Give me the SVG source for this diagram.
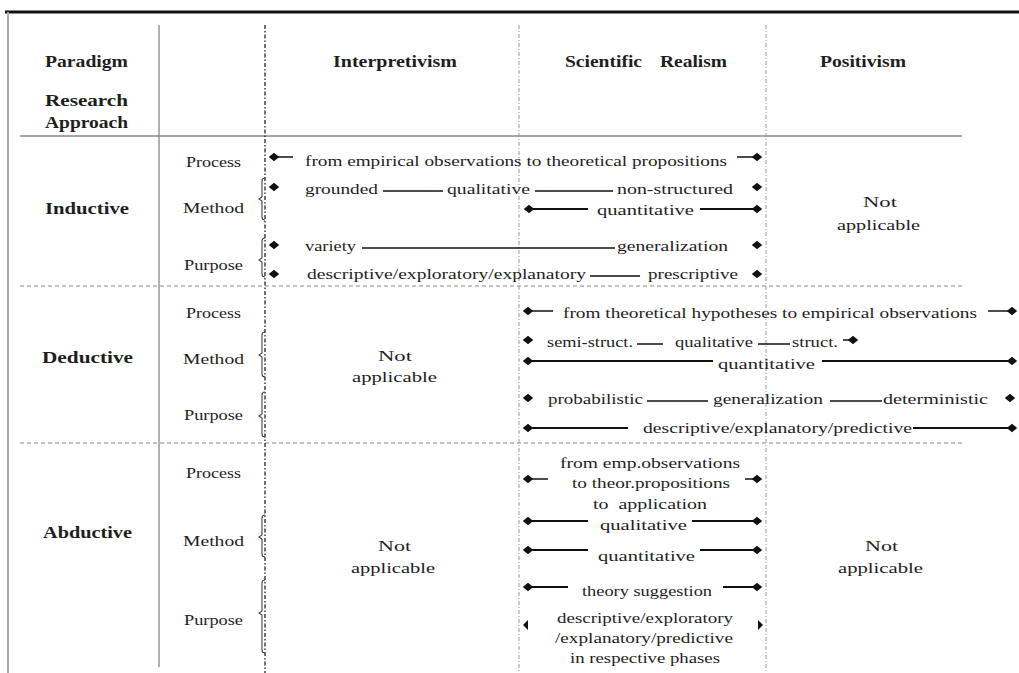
<svg xmlns="http://www.w3.org/2000/svg" xmlns:xlink="http://www.w3.org/1999/xlink" width="1019" height="673" viewBox="0 0 1019 673">
<style>
text{font-family:"Liberation Serif","Times New Roman",serif;fill:#1e1e1e;font-size:14px}
.h{font-weight:bold;font-size:16px}
.grid{stroke:#888;stroke-width:1.3;fill:none}
.hd{stroke:#888;stroke-width:1;stroke-dasharray:4 3;fill:none}
.dd{stroke:#111;stroke-width:1.2;stroke-dasharray:4 2 1.5 2;fill:none}
.vd{stroke:#999;stroke-width:1;stroke-dasharray:4 2 1 2;fill:none}
.br{stroke:#444;stroke-width:1.1;fill:none}
.ln{stroke:#111;stroke-width:1.5;fill:none}
.lt{stroke:#111;stroke-width:2.2;fill:none}
.dm{fill:#111}
</style>
<defs>
<path id="d" d="M-5.2 0L0-4.3L5.2 0L0 4.3Z"/>
</defs>
<rect width="1019" height="673" fill="#fff"/>
<g id="grid">
<line x1="5" y1="12" x2="1019" y2="12" stroke="#111" stroke-width="3"/>
<line x1="8" y1="12" x2="8" y2="673" stroke="#aaa" stroke-width="2"/>
<line class="grid" x1="159" y1="25" x2="159" y2="667"/>
<line class="grid" x1="20" y1="136" x2="962" y2="136"/>
<line class="hd" x1="20" y1="286" x2="962" y2="286"/>
<line class="hd" x1="20" y1="443" x2="962" y2="443"/>
<line class="dd" x1="265" y1="25" x2="265" y2="673"/>
<line class="vd" x1="519" y1="25" x2="519" y2="673"/>
<line class="vd" x1="766" y1="25" x2="766" y2="673"/>
</g>
<g id="header">
<text class="h" x="45" y="67" textLength="83" lengthAdjust="spacingAndGlyphs">Paradigm</text>
<text class="h" x="45" y="106" textLength="83" lengthAdjust="spacingAndGlyphs">Research</text>
<text class="h" x="45" y="128" textLength="83" lengthAdjust="spacingAndGlyphs">Approach</text>
<text class="h" x="333" y="67" textLength="124" lengthAdjust="spacingAndGlyphs">Interpretivism</text>
<text class="h" x="565" y="67" textLength="77" lengthAdjust="spacingAndGlyphs">Scientific</text>
<text class="h" x="660" y="67" textLength="67" lengthAdjust="spacingAndGlyphs">Realism</text>
<text class="h" x="820" y="67" textLength="86" lengthAdjust="spacingAndGlyphs">Positivism</text>
</g>
<g id="inductive">
<text class="h" x="45" y="214" textLength="84" lengthAdjust="spacingAndGlyphs">Inductive</text>
<text x="186" y="167" textLength="55" lengthAdjust="spacingAndGlyphs">Process</text>
<text x="183" y="213" textLength="61" lengthAdjust="spacingAndGlyphs">Method</text>
<text x="184" y="270" textLength="59" lengthAdjust="spacingAndGlyphs">Purpose</text>
<path class="br" d="M265 178Q262 178 262 181L262 197L259 199L262 201L262 217Q262 220 265 220"/>
<path class="br" d="M265 238Q262 238 262 241L262 258L259 260L262 262L262 274Q262 277 265 277"/>
<text x="305" y="166" textLength="422" lengthAdjust="spacingAndGlyphs">from empirical observations to theoretical propositions</text>
<text x="305" y="194" textLength="73" lengthAdjust="spacingAndGlyphs">grounded</text>
<text x="447" y="194" textLength="83" lengthAdjust="spacingAndGlyphs">qualitative</text>
<text x="617" y="194" textLength="116" lengthAdjust="spacingAndGlyphs">non-structured</text>
<text x="597" y="215" textLength="97" lengthAdjust="spacingAndGlyphs">quantitative</text>
<text x="305" y="251" textLength="51" lengthAdjust="spacingAndGlyphs">variety</text>
<text x="617" y="251" textLength="111" lengthAdjust="spacingAndGlyphs">generalization</text>
<text x="307" y="279" textLength="279" lengthAdjust="spacingAndGlyphs">descriptive/exploratory/explanatory</text>
<text x="648" y="279" textLength="90" lengthAdjust="spacingAndGlyphs">prescriptive</text>
<text x="863" y="207" textLength="34" lengthAdjust="spacingAndGlyphs">Not</text>
<text x="837" y="230" textLength="83" lengthAdjust="spacingAndGlyphs">applicable</text>
</g>
<g id="deductive">
<text class="h" x="42" y="363" textLength="91" lengthAdjust="spacingAndGlyphs">Deductive</text>
<text x="186" y="318" textLength="55" lengthAdjust="spacingAndGlyphs">Process</text>
<text x="183" y="364" textLength="61" lengthAdjust="spacingAndGlyphs">Method</text>
<text x="184" y="420" textLength="59" lengthAdjust="spacingAndGlyphs">Purpose</text>
<path class="br" d="M265 332Q262 332 262 335L262 353L259 355L262 357L262 374Q262 377 265 377"/>
<path class="br" d="M265 392Q262 392 262 395L262 414L259 416L262 418L262 434Q262 437 265 437"/>
<text x="378" y="361" textLength="34" lengthAdjust="spacingAndGlyphs">Not</text>
<text x="352" y="382" textLength="85" lengthAdjust="spacingAndGlyphs">applicable</text>
<text x="563" y="318" textLength="414" lengthAdjust="spacingAndGlyphs">from theoretical hypotheses to empirical observations</text>
<text x="547" y="347" textLength="86" lengthAdjust="spacingAndGlyphs">semi-struct.</text>
<text x="675" y="347" textLength="78" lengthAdjust="spacingAndGlyphs">qualitative</text>
<text x="792" y="347" textLength="46" lengthAdjust="spacingAndGlyphs">struct.</text>
<text x="718" y="369" textLength="97" lengthAdjust="spacingAndGlyphs">quantitative</text>
<text x="548" y="404" textLength="95" lengthAdjust="spacingAndGlyphs">probabilistic</text>
<text x="713" y="404" textLength="110" lengthAdjust="spacingAndGlyphs">generalization</text>
<text x="883" y="404" textLength="105" lengthAdjust="spacingAndGlyphs">deterministic</text>
<text x="643" y="433" textLength="269" lengthAdjust="spacingAndGlyphs">descriptive/explanatory/predictive</text>
</g>
<g id="abductive">
<text class="h" x="43" y="538" textLength="89" lengthAdjust="spacingAndGlyphs">Abductive</text>
<text x="186" y="478" textLength="55" lengthAdjust="spacingAndGlyphs">Process</text>
<text x="183" y="546" textLength="61" lengthAdjust="spacingAndGlyphs">Method</text>
<text x="184" y="625" textLength="59" lengthAdjust="spacingAndGlyphs">Purpose</text>
<path class="br" d="M265 515Q262 515 262 518L262 535L259 537L262 539L262 554Q262 557 265 557"/>
<path class="br" d="M265 580Q262 580 262 583L262 611L259 613L262 615L262 650Q262 653 265 653"/>
<text x="378" y="551" textLength="33" lengthAdjust="spacingAndGlyphs">Not</text>
<text x="351" y="573" textLength="84" lengthAdjust="spacingAndGlyphs">applicable</text>
<text x="560" y="468" textLength="180" lengthAdjust="spacingAndGlyphs">from emp.observations</text>
<text x="572" y="488" textLength="158" lengthAdjust="spacingAndGlyphs">to theor.propositions</text>
<text x="593" y="509" textLength="114" lengthAdjust="spacingAndGlyphs" xml:space="preserve">to  application</text>
<text x="600" y="530" textLength="87" lengthAdjust="spacingAndGlyphs">qualitative</text>
<text x="598" y="561" textLength="97" lengthAdjust="spacingAndGlyphs">quantitative</text>
<text x="582" y="596" textLength="130" lengthAdjust="spacingAndGlyphs">theory suggestion</text>
<text x="557" y="623" textLength="176" lengthAdjust="spacingAndGlyphs">descriptive/exploratory</text>
<text x="555" y="643" textLength="178" lengthAdjust="spacingAndGlyphs">/explanatory/predictive</text>
<text x="570" y="663" textLength="150" lengthAdjust="spacingAndGlyphs">in respective phases</text>
<text x="865" y="551" textLength="33" lengthAdjust="spacingAndGlyphs">Not</text>
<text x="838" y="573" textLength="85" lengthAdjust="spacingAndGlyphs">applicable</text>
</g>
<g id="connectors">
<g class="ln">
<line x1="274" y1="157" x2="293" y2="157"/>
<line x1="737" y1="157" x2="757" y2="157"/>
<line x1="383" y1="191" x2="443" y2="191"/>
<line x1="535" y1="191" x2="613" y2="191"/>
<line x1="362" y1="248" x2="615" y2="248"/>
<line x1="590" y1="276" x2="640" y2="276"/>
<line x1="528" y1="311" x2="553" y2="311"/>
<line x1="988" y1="311" x2="1012" y2="311"/>
<line x1="637" y1="344" x2="663" y2="344"/>
<line x1="758" y1="344" x2="790" y2="344"/>
<line x1="843" y1="340" x2="853" y2="340"/>
<line x1="647" y1="401" x2="708" y2="401"/>
<line x1="830" y1="401" x2="882" y2="401"/>
<line x1="528" y1="479" x2="548" y2="479"/>
<line x1="745" y1="479" x2="757" y2="479"/>
</g>
<g class="lt">
<line x1="529" y1="209" x2="588" y2="209"/>
<line x1="700" y1="209" x2="757" y2="209"/>
<line x1="528" y1="361" x2="713" y2="361"/>
<line x1="822" y1="361" x2="1012" y2="361"/>
<line x1="528" y1="428" x2="628" y2="428"/>
<line x1="913" y1="428" x2="1012" y2="428"/>
<line x1="528" y1="521" x2="588" y2="521"/>
<line x1="692" y1="521" x2="757" y2="521"/>
<line x1="528" y1="550" x2="588" y2="550"/>
<line x1="700" y1="550" x2="757" y2="550"/>
<line x1="528" y1="587" x2="568" y2="587"/>
<line x1="723" y1="587" x2="757" y2="587"/>
</g>
<g class="dm">
<use xlink:href="#d" x="274" y="157"/>
<use xlink:href="#d" x="757" y="157"/>
<use xlink:href="#d" x="274" y="187"/>
<use xlink:href="#d" x="757" y="187"/>
<use xlink:href="#d" x="529" y="209"/>
<use xlink:href="#d" x="757" y="209"/>
<use xlink:href="#d" x="274" y="245"/>
<use xlink:href="#d" x="757" y="245"/>
<use xlink:href="#d" x="274" y="274"/>
<use xlink:href="#d" x="757" y="274"/>
<use xlink:href="#d" x="528" y="311"/>
<use xlink:href="#d" x="1012" y="311"/>
<use xlink:href="#d" x="528" y="340"/>
<use xlink:href="#d" x="853" y="340"/>
<use xlink:href="#d" x="528" y="361"/>
<use xlink:href="#d" x="1012" y="361"/>
<use xlink:href="#d" x="528" y="398"/>
<use xlink:href="#d" x="1010" y="398"/>
<use xlink:href="#d" x="528" y="428"/>
<use xlink:href="#d" x="1012" y="428"/>
<use xlink:href="#d" x="528" y="479"/>
<use xlink:href="#d" x="757" y="479"/>
<use xlink:href="#d" x="528" y="521"/>
<use xlink:href="#d" x="757" y="521"/>
<use xlink:href="#d" x="528" y="550"/>
<use xlink:href="#d" x="757" y="550"/>
<use xlink:href="#d" x="528" y="587"/>
<use xlink:href="#d" x="757" y="587"/>
<path d="M523 625L528 620L528 630Z"/>
<path d="M763 625L758 620L758 630Z"/>
</g>
</g>
</svg>
